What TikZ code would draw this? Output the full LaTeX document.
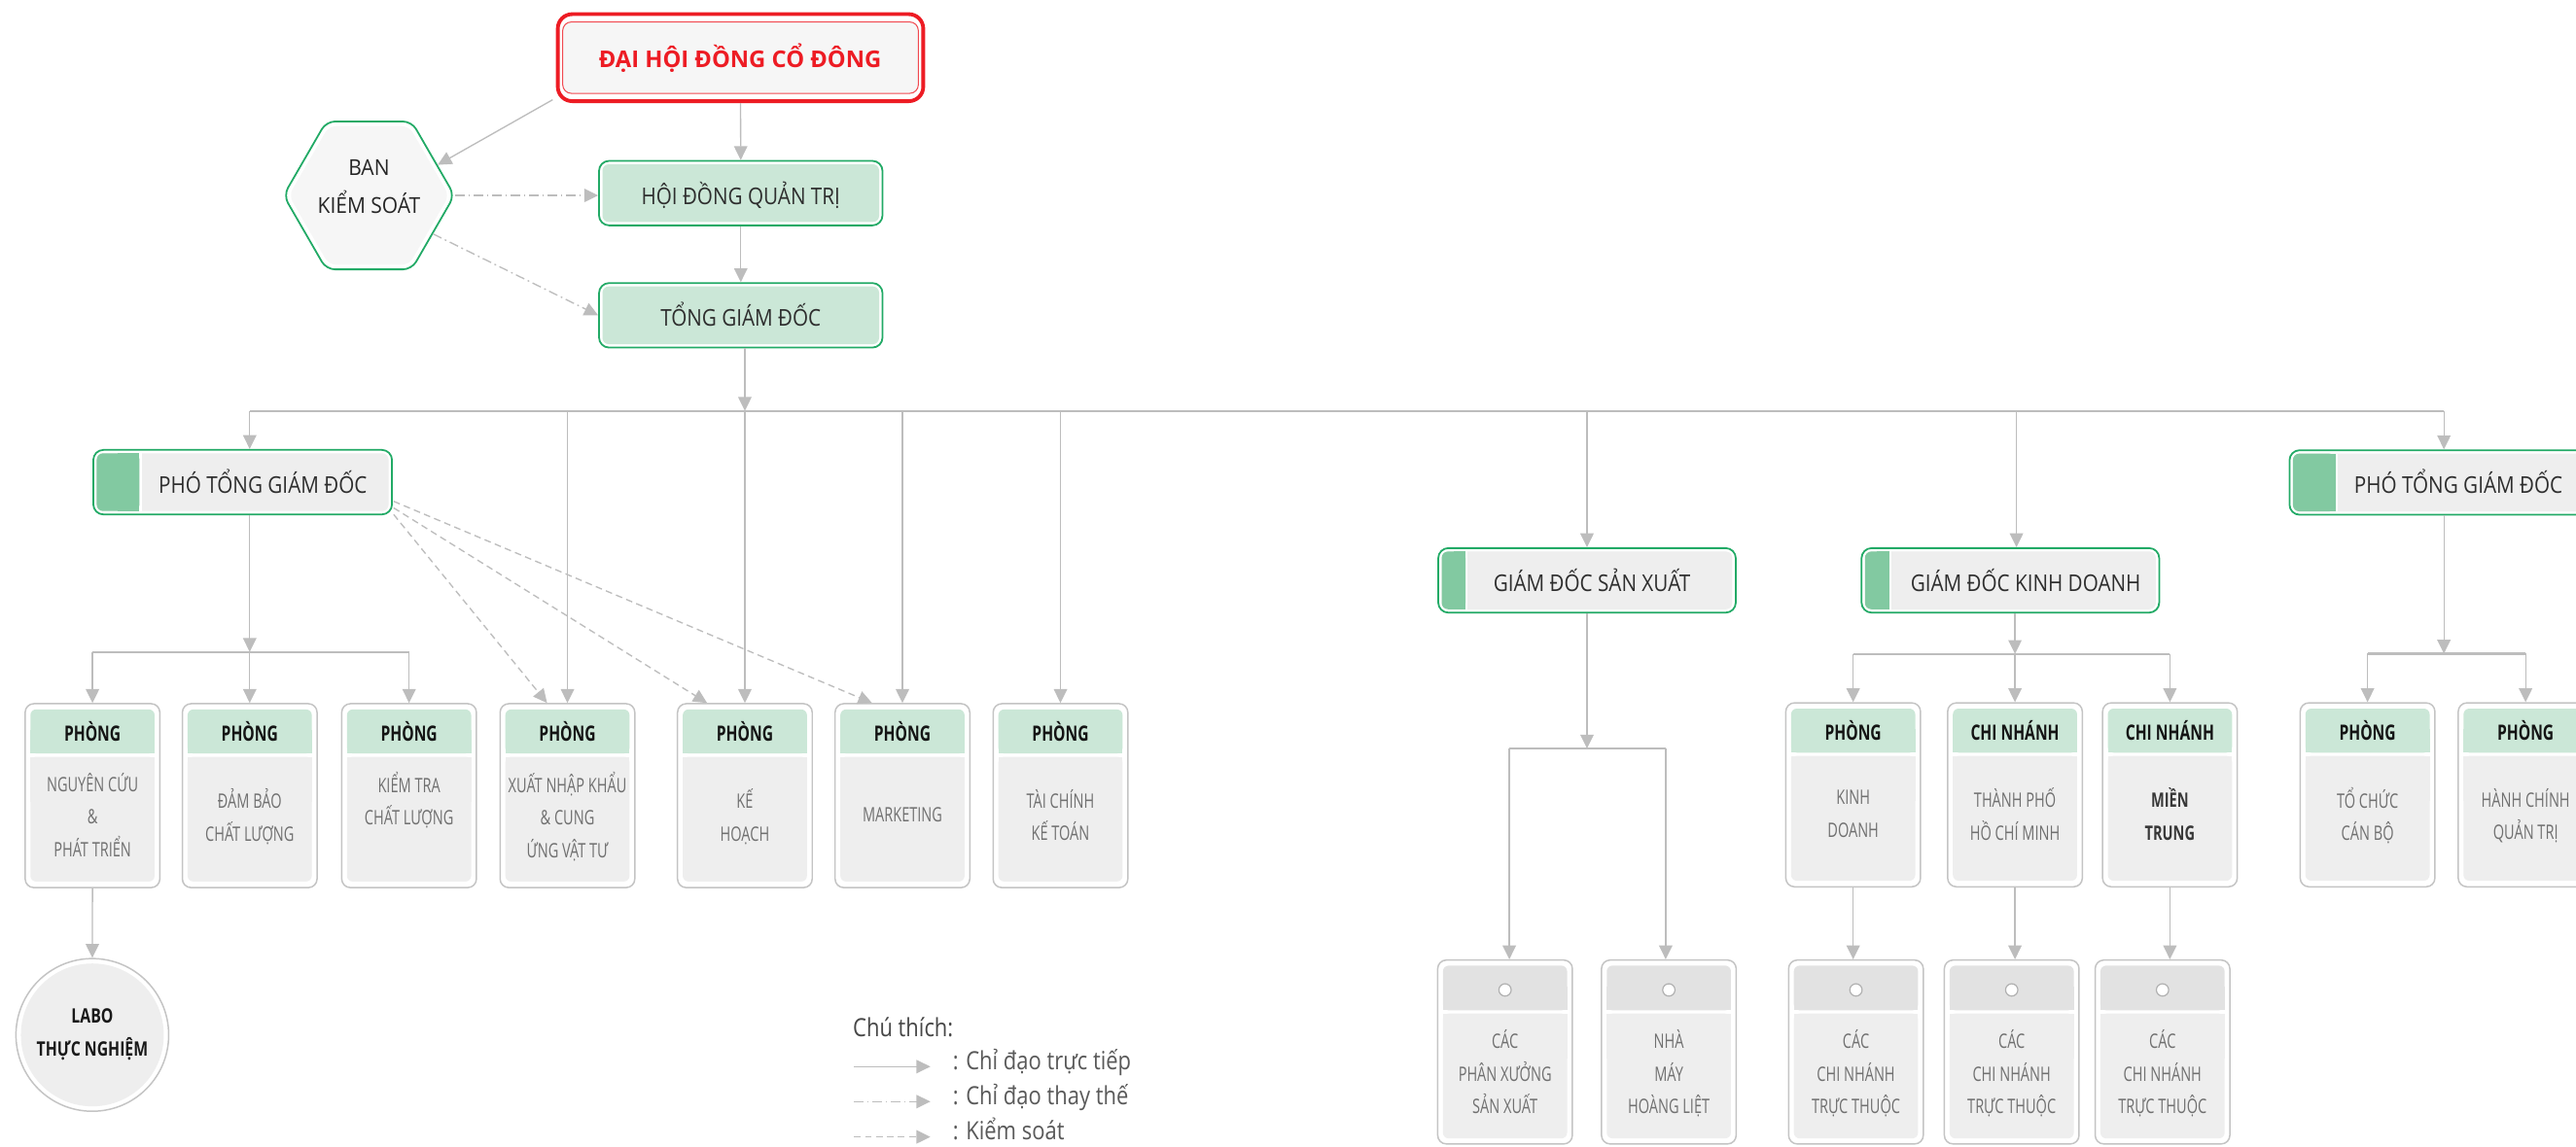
\documentclass[tikz,border=0pt]{standalone}
\usepackage{fontspec}
\setmainfont{Open Sans}
\newfontfamily\fhdr[FakeStretch=0.72]{Open Sans}
\newfontfamily\fdept[FakeStretch=0.71]{Open Sans}
\newfontfamily\fmgr[FakeStretch=0.87]{Open Sans}
\newfontfamily\fhex[FakeStretch=0.93]{Open Sans}
\newfontfamily\flab[FakeStretch=0.77]{Open Sans}
\newfontfamily\fleg[FakeStretch=0.85]{Open Sans}
\newfontfamily\ftop[FakeStretch=1.0]{Open Sans}
\usetikzlibrary{shapes.geometric,arrows.meta,calc}
\definecolor{gline}{HTML}{BDBDBD}
\definecolor{gborder}{HTML}{C4C4C4}
\definecolor{grn}{HTML}{22AA66}
\definecolor{grnblk}{HTML}{82C9A1}
\definecolor{grnlt}{HTML}{CBE7D7}
\definecolor{bodyg}{HTML}{EEEEEE}
\definecolor{hubg}{HTML}{E2E2E2}
\definecolor{redc}{HTML}{ED1C24}
\definecolor{topfill}{HTML}{F6F6F6}
\definecolor{txtg}{HTML}{707070}
\newcommand\lnst{\rule[-3pt]{0pt}{7.93pt}}
\newcommand\mst{\rule[-3pt]{0pt}{8.43pt}}
\tikzset{
 arr/.style={draw=gline, line width=0.45pt, -{Triangle[width=4.6pt,length=4.8pt]}},
 busl/.style={draw=gline, line width=0.8pt},
 ddot/.style={arr, dash pattern=on 3.2pt off 1.3pt on 0.6pt off 1.3pt},
 ksl/.style={arr, dash pattern=on 2.3pt off 1.5pt},
 deptouter/.style={rectangle, draw=gborder, fill=white, line width=0.5pt, rounded corners=3pt, minimum width=1.64cm, minimum height=2.24cm, inner sep=0pt},
 hdrtext/.style={font=\fhdr\bfseries\fontsize{7.3pt}{9pt}\selectfont, text=black!92, inner sep=0pt, anchor=base},
 bodytext/.style={font=\fdept\fontsize{6.9pt}{11.3pt}\selectfont, text=txtg, align=center, inner sep=0pt},
 mgrouter/.style={rectangle, draw=grn, fill=white, line width=0.6pt, rounded corners=3.5pt, minimum height=0.786cm, inner sep=0pt},
 mgrtext/.style={font=\fmgr\fontsize{8pt}{10pt}\selectfont, text=black!82, inner sep=0pt, anchor=base},
 hubdot/.style={circle, draw=gborder!90!black, fill=white, line width=0.4pt, minimum size=0.15cm, inner sep=0pt},
 legtext/.style={font=\fleg\fontsize{8.7pt}{10pt}\selectfont, text=black!65, inner sep=0pt, anchor=base west},
}
\newcommand\deptcell[5]{%
  \node[deptouter] (#1) at (#2,#3+56) {};
  \fill[grnlt, rounded corners=2pt] (#2-37.8,#3+3.5) rectangle (#2+37.8,#3+30.3);
  \fill[grnlt] (#2-37.8,#3+16) rectangle (#2+37.8,#3+30.3);
  \fill[bodyg, rounded corners=2pt] (#2-37.8,#3+32.3) rectangle (#2+37.8,#3+108.3);
  \fill[bodyg] (#2-37.8,#3+32.3) rectangle (#2+37.8,#3+60);
  \node[hdrtext] (#1h) at (#2,#3+22.9) {#4};
  \node[bodytext] (#1b) at (#2,#3+70.3) {#5};
}
\newcommand\hubcell[4]{%
  \node[deptouter] (#1) at (#2,#3+56) {};
  \fill[hubg, rounded corners=2pt] (#2-37.8,#3+3.4) rectangle (#2+37.8,#3+30.6);
  \fill[hubg] (#2-37.8,#3+16) rectangle (#2+37.8,#3+30.6);
  \fill[bodyg, rounded corners=2pt] (#2-37.8,#3+32.6) rectangle (#2+37.8,#3+108.6);
  \fill[bodyg] (#2-37.8,#3+32.6) rectangle (#2+37.8,#3+60);
  \node[hubdot] (#1d) at (#2,#3+18.2) {};
  \node[bodytext] (#1b) at (#2,#3+70.8) {#4};
}
\newcommand\mgrbox[7]{%
  \node[mgrouter, minimum width=#4*0.02cm] (#1) at (#2,#3) {};
  \fill[bodyg, rounded corners=2.2pt] ($(#1.north west)+(2.6,2.6)$) rectangle ($(#1.south east)+(-2.6,-2.6)$);
  \fill[white] ($(#1.north west)+(2.6+#5,2.6)$) rectangle ($(#1.south west)+(3.9+#5,-2.6)$);
  \fill[grnblk, rounded corners=2.2pt] ($(#1.north west)+(2.6,2.6)$) rectangle ($(#1.south west)+(2.6+#5,-2.6)$);
  \fill[grnblk] ($(#1.north west)+(2.6+#5/2,2.6)$) rectangle ($(#1.south west)+(2.6+#5,-2.6)$);
  \node[mgrtext] (#1t) at ($(#1.center)+(#7,6.5)$) {#6};
}
\begin{document}
\begin{tikzpicture}[x=0.02cm,y=-0.02cm]
\useasboundingbox (0,0) rectangle (1568,698);
\clip (0,0) rectangle (1568,698);
\fill[white] (0,0) rectangle (1568,698);

% ---- top ----
\node[draw=redc, line width=1.3pt, fill=white, rounded corners=5pt, minimum width=4.45cm, minimum height=1.06cm, inner sep=0pt] (dhd) at (450.75,35.1) {};
\node[draw=redc!80, line width=0.35pt, fill=topfill, rounded corners=3pt, minimum width=4.33cm, minimum height=0.87cm, inner sep=0pt] (dhdin) at (dhd.center) {};
\node[font=\ftop\bfseries\fontsize{8pt}{10pt}\selectfont, text=redc, anchor=base, inner sep=0pt] (dhdt) at (450.5,41.4) {ĐẠI HỘI ĐỒNG CỔ ĐÔNG};

\node[regular polygon, regular polygon sides=6, minimum size=2.08cm, draw=grn, fill=white, line width=0.6pt, rounded corners=3pt, inner sep=0pt] (bks) at (224.6,119) {};
\node[regular polygon, regular polygon sides=6, minimum size=1.95cm, fill=topfill, rounded corners=2.5pt, inner sep=0pt] (bksin) at (bks.center) {};
\node[font=\fhex\fontsize{7.6pt}{13.1pt}\selectfont, align=center, inner sep=0pt, text=black!85] (bkst) at (224.6,116.3) {\mst BAN\\\mst KIỂM SOÁT};

\node[mgrouter, minimum width=3.452cm] (hdqt) at (450.9,117.6) {};
\fill[grnlt, rounded corners=2.2pt] ($(hdqt.north west)+(2.6,2.6)$) rectangle ($(hdqt.south east)+(-2.6,-2.6)$);
\node[mgrtext] (hdqtt) at ($(hdqt.center)+(0,6.7)$) {HỘI ĐỒNG QUẢN TRỊ};

\node[mgrouter, minimum width=3.452cm] (tgd) at (450.9,192) {};
\fill[grnlt, rounded corners=2.2pt] ($(tgd.north west)+(2.6,2.6)$) rectangle ($(tgd.south east)+(-2.6,-2.6)$);
\node[mgrtext] (tgdt) at ($(tgd.center)+(0,6.3)$) {TỔNG GIÁM ĐỐC};

% ---- managers ----
\mgrbox{ptgd1}{147.7}{293.6}{181.8}{26}{PHÓ TỔNG GIÁM ĐỐC}{12.3}
\mgrbox{gdsx}{966}{353.4}{181.1}{14.5}{GIÁM ĐỐC SẢN XUẤT}{3}
\mgrbox{gdkd}{1223.7}{353.4}{181.2}{14.8}{GIÁM ĐỐC KINH DOANH}{9.3}
\mgrbox{ptgd2}{1484.5}{293.8}{181.8}{26}{PHÓ TỔNG GIÁM ĐỐC}{11.9}

% ---- departments ----
\deptcell{nc}{56.3}{428.5}{PHÒNG}{\lnst NGUYÊN CỨU\\\lnst \&\\\lnst PHÁT TRIỂN}
\deptcell{db}{152}{428.5}{PHÒNG}{\lnst ĐẢM BẢO\\\lnst CHẤT LƯỢNG}
\deptcell{kt}{249}{428.5}{PHÒNG}{\lnst KIỂM TRA\\\lnst CHẤT LƯỢNG\\\lnst}
\deptcell{xnk}{345.4}{428.5}{PHÒNG}{\lnst XUẤT NHẬP KHẨU\\\lnst \& CUNG\\\lnst ỨNG VẬT TƯ}
\deptcell{kh}{453.4}{428.5}{PHÒNG}{\lnst KẾ\\\lnst HOẠCH}
\deptcell{mkt}{549.3}{428.5}{PHÒNG}{\lnst MARKETING}
\deptcell{tc}{645.5}{428.5}{PHÒNG}{\lnst TÀI CHÍNH\\\lnst KẾ TOÁN}
\deptcell{kd}{1128}{428}{PHÒNG}{\lnst KINH\\\lnst DOANH}
\deptcell{hcm}{1226.5}{428}{CHI NHÁNH}{\lnst THÀNH PHỐ\\\lnst HỒ CHÍ MINH}
\deptcell{mt}{1320.8}{428}{CHI NHÁNH}{\lnst \textbf{\color{black!78}MIỀN}\\\lnst \textbf{\color{black!78}TRUNG}}
\deptcell{tcb}{1441.1}{428}{PHÒNG}{\lnst TỔ CHỨC\\\lnst CÁN BỘ}
\deptcell{hct}{1537.3}{428}{PHÒNG}{\lnst HÀNH CHÍNH\\\lnst QUẢN TRỊ}

% ---- hubs ----
\hubcell{h1}{916.1}{584.6}{\lnst CÁC\\\lnst PHÂN XƯỞNG\\\lnst SẢN XUẤT}
\hubcell{h2}{1015.8}{584.6}{\lnst NHÀ\\\lnst MÁY\\\lnst HOÀNG LIỆT}
\hubcell{h3}{1129.7}{584.6}{\lnst CÁC\\\lnst CHI NHÁNH\\\lnst TRỰC THUỘC}
\hubcell{h4}{1224.5}{584.6}{\lnst CÁC\\\lnst CHI NHÁNH\\\lnst TRỰC THUỘC}
\hubcell{h5}{1316.3}{584.6}{\lnst CÁC\\\lnst CHI NHÁNH\\\lnst TRỰC THUỘC}

% ---- LABO ----
\node[circle, draw=gborder, fill=white, line width=0.5pt, minimum size=1.86cm, inner sep=0pt] (labo) at (56.2,630.2) {};
\node[circle, fill=bodyg, minimum size=1.74cm, inner sep=0pt] (laboin) at (labo.center) {};
\node[font=\flab\bfseries\fontsize{6.9pt}{11.4pt}\selectfont, align=center, inner sep=0pt, text=black!90] (labot) at (56.2,631.1) {\lnst LABO\\\lnst THỰC NGHIỆM};

% ---- connectors: top ----
\draw[arr] (dhd.south) -- (hdqt.north);
\draw[arr] ($(dhd.south west)+(-2,-2)$) -- (bks.24);
\draw[ddot] (bks.east) -- (bks.east -| hdqt.west);
\draw[ddot] (bks.-31) -- (tgd.west);
\draw[arr] (hdqt.south) -- (tgd.north);

\coordinate (bL) at (152,250.2);
\coordinate (bR) at (1487.6,250.2);
\coordinate (b0) at (453.4,250.2);
\coordinate (dkd) at (1227.4,250.2);
\draw[busl] (bL) -- (bR);
\draw[arr] (tgd.south -| b0) -- (b0);
\draw[arr] (bL) -- (ptgd1.north -| bL);
\draw[arr] (xnk.north |- bL) -- (xnk.north);
\draw[arr] (kh.north |- bL) -- (kh.north);
\draw[arr] (mkt.north |- bL) -- (mkt.north);
\draw[arr] (tc.north |- bL) -- (tc.north);
\draw[arr] (gdsx.north |- bL) -- (gdsx.north);
\draw[arr] (dkd) -- (gdkd.north -| dkd);
\draw[arr] (bR) -- (ptgd2.north -| bR);

% PTGD 1
\coordinate (p1b) at (152,397);
\draw[arr] (ptgd1.south -| p1b) -- (p1b);
\draw[busl] (nc.north |- p1b) -- (kt.north |- p1b);
\draw[arr] (nc.north |- p1b) -- (nc.north);
\draw[arr] (db.north |- p1b) -- (db.north);
\draw[arr] (kt.north |- p1b) -- (kt.north);
\draw[arr] (nc.south) -- (labo.north);
\draw[ksl] ($(ptgd1.south east)+(0.5,-0.5)$) -- ($(xnk.north)+(-12.4,0)$);
\draw[ksl] ($(ptgd1.south east)+(0.5,-4.5)$) -- ($(kh.north)+(-23,0)$);
\draw[ksl] ($(ptgd1.south east)+(0.5,-8.5)$) -- ($(mkt.north)+(-18.5,0)$);

% GD san xuat
\coordinate (sxm) at (966,455.8);
\coordinate (sx1) at (918.7,455.8);
\coordinate (sx2) at (1013.9,455.8);
\draw[arr] (gdsx.south) -- (sxm);
\draw[busl] (sx1) -- (sx2);
\draw[arr] (sx1) -- (h1.north -| sx1);
\draw[arr] (sx2) -- (h2.north -| sx2);

% GD kinh doanh
\coordinate (kdm) at (1226.5,398.2);
\draw[arr] (gdkd.south -| kdm) -- (kdm);
\draw[busl] (kd.north |- kdm) -- (mt.north |- kdm);
\draw[arr] (kd.north |- kdm) -- (kd.north);
\draw[arr] (hcm.north |- kdm) -- (hcm.north);
\draw[arr] (mt.north |- kdm) -- (mt.north);
\draw[arr] (kd.south) -- (kd.south |- h3.north);
\draw[arr] (hcm.south) -- (hcm.south |- h4.north);
\draw[arr] (mt.south) -- (mt.south |- h5.north);

% PTGD 2
\coordinate (p2b) at (1487.6,398);
\draw[arr] (ptgd2.south -| p2b) -- (p2b);
\draw[busl] (tcb.north |- p2b) -- (hct.north |- p2b);
\draw[arr] (tcb.north |- p2b) -- (tcb.north);
\draw[arr] (hct.north |- p2b) -- (hct.north);

% ---- legend ----
\node[legtext, text=black!72] (lgt) at (518.9,631.4) {Chú thích:};
\coordinate (la1) at (519.9,649.5); \coordinate (lb1) at (566.3,649.5);
\coordinate (la2) at (519.9,670.8); \coordinate (lb2) at (566.3,670.8);
\coordinate (la3) at (519.9,692.3); \coordinate (lb3) at (566.3,692.3);
\draw[arr] (la1) -- (lb1);
\draw[ddot] (la2) -- (lb2);
\draw[ksl] (la3) -- (lb3);
\node[legtext] (lg1) at (579.7,651.1) {: Chỉ đạo trực tiếp};
\node[legtext] (lg2) at (579.7,672.8) {: Chỉ đạo thay thế};
\node[legtext] (lg3) at (579.7,694.3) {: Kiểm soát};
\end{tikzpicture}
\end{document}
